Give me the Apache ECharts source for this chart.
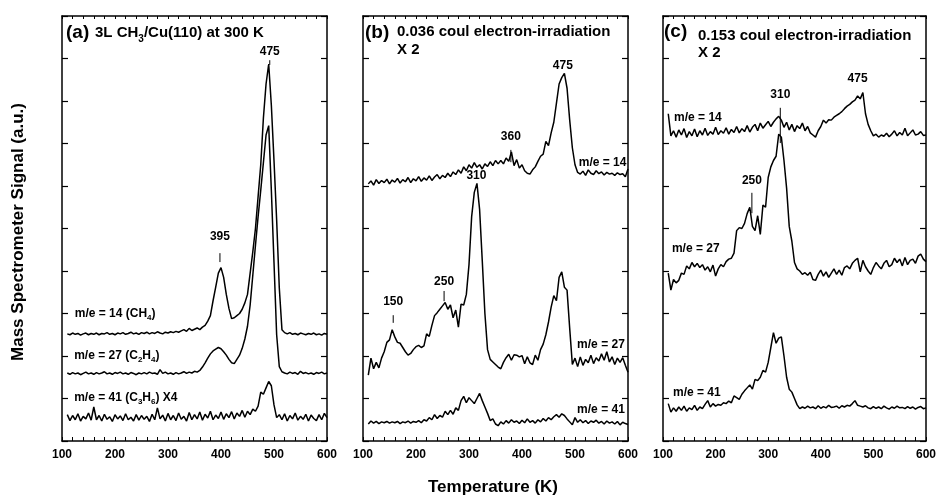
<!DOCTYPE html>
<html><head><meta charset="utf-8">
<script src="https://cdn.jsdelivr.net/npm/echarts@6/dist/echarts.min.js"></script>
<style>html,body{margin:0;padding:0;background:#fff}#chart{width:939px;height:496px}</style>
</head><body><div id="chart"></div>
<script>
// Temperature samples (K)
const temps = [110,115,120,125,130,135,140,145,150,155,
160,165,170,175,180,185,190,195,200,205,
210,215,220,225,230,235,240,245,250,255,
260,265,270,275,280,285,290,295,300,305,
310,315,320,325,330,335,340,345,350,355,
360,365,370,375,380,385,390,395,400,405,
410,415,420,425,430,435,440,445,450,455,
460,465,470,475,480,485,490,495,500,505,
510,515,520,525,530,535,540,545,550,555,
560,565,570,575,580,585,590,595,600];

// Panel (a): 3L CH3/Cu(110) at 300 K
const a14 = [2.52,2.50,2.54,2.51,2.53,2.49,2.52,2.54,2.50,2.53,
2.51,2.54,2.50,2.53,2.52,2.55,2.51,2.53,2.50,2.54,
2.52,2.55,2.51,2.53,2.56,2.52,2.54,2.51,2.55,2.53,
2.56,2.52,2.55,2.53,2.57,2.54,2.52,2.56,2.54,2.57,
2.55,2.58,2.56,2.59,2.62,2.58,2.65,2.60,2.63,2.66,
2.62,2.68,2.72,2.82,2.95,3.30,3.62,3.95,4.08,3.85,
3.45,3.12,2.88,2.90,2.95,3.00,3.10,3.25,3.45,3.95,
4.45,5.00,5.75,6.50,7.60,8.40,8.87,7.90,6.60,5.20,
3.60,2.62,2.55,2.52,2.55,2.51,2.53,2.50,2.54,2.52,
2.50,2.53,2.51,2.54,2.50,2.52,2.49,2.53,2.51];
const a27 = [1.60,1.57,1.61,1.58,1.60,1.56,1.59,1.62,1.58,1.60,
1.57,1.61,1.58,1.60,1.63,1.58,1.60,1.57,1.61,1.59,
1.62,1.58,1.60,1.57,1.61,1.59,1.56,1.60,1.58,1.61,
1.58,1.62,1.59,1.60,1.57,1.68,1.59,1.62,1.58,1.60,
1.57,1.61,1.58,1.60,1.63,1.59,1.62,1.60,1.64,1.62,
1.66,1.74,1.84,1.95,2.05,2.12,2.16,2.20,2.17,2.10,
2.02,1.92,1.84,1.82,1.92,2.02,2.18,2.40,2.70,3.20,
3.90,4.60,5.28,5.90,6.55,7.20,7.42,5.90,4.20,2.50,
1.75,1.63,1.60,1.58,1.62,1.59,1.61,1.57,1.64,1.59,
1.61,1.58,1.60,1.57,1.61,1.59,1.62,1.58,1.60];
const a41 = [0.62,0.48,0.60,0.50,0.64,0.47,0.58,0.52,0.66,0.49,
0.80,0.50,0.60,0.47,0.63,0.51,0.57,0.46,0.62,0.52,
0.59,0.48,0.64,0.50,0.56,0.47,0.62,0.49,0.60,0.51,
0.58,0.46,0.63,0.50,0.78,0.52,0.61,0.47,0.65,0.50,
0.60,0.48,0.66,0.51,0.58,0.47,0.67,0.50,0.62,0.52,
0.68,0.49,0.63,0.54,0.70,0.50,0.61,0.53,0.68,0.51,
0.64,0.55,0.69,0.52,0.66,0.58,0.72,0.56,0.70,0.62,
0.75,0.70,0.82,1.15,1.10,1.25,1.40,1.30,0.85,0.55,
0.62,0.50,0.64,0.47,0.60,0.52,0.66,0.49,0.58,0.51,
0.63,0.47,0.61,0.53,0.48,0.62,0.50,0.65,0.55];

// Panel (b): 0.036 coul electron-irradiation
const b14 = [6.05,6.12,6.02,6.15,6.06,6.13,6.08,6.16,6.05,6.14,
6.09,6.18,6.07,6.15,6.10,6.20,6.08,6.17,6.12,6.22,
6.11,6.19,6.14,6.24,6.13,6.21,6.27,6.17,6.25,6.20,
6.30,6.22,6.33,6.27,6.38,6.30,6.45,6.36,6.50,6.42,
6.55,6.44,6.50,6.40,6.52,6.46,6.57,6.48,6.60,6.52,
6.60,6.52,6.66,6.58,6.80,6.48,6.62,6.42,6.50,6.36,
6.30,6.28,6.38,6.45,6.58,6.70,6.75,7.05,6.95,7.25,
7.50,7.95,8.40,8.55,8.65,8.30,7.55,6.90,6.50,6.32,
6.28,6.35,6.25,6.38,6.30,6.27,6.36,6.29,6.33,6.26,
6.32,6.28,6.30,6.25,6.31,6.27,6.29,6.22,6.40];
const b27 = [1.55,1.95,1.70,1.85,1.72,1.95,2.10,2.32,2.38,2.62,
2.45,2.32,2.30,2.20,2.10,2.02,2.06,2.15,2.22,2.25,
2.20,2.24,2.52,2.46,2.72,2.95,3.02,3.10,3.18,3.26,
3.10,3.20,2.90,3.08,2.68,3.22,3.20,3.45,4.15,5.28,
5.85,6.06,5.45,4.25,3.00,2.15,1.92,1.86,1.80,1.74,
1.70,1.85,1.96,2.04,1.90,2.03,2.02,1.98,2.01,1.82,
1.98,1.84,1.80,2.02,1.90,2.15,2.28,2.50,2.80,3.15,
3.42,3.30,3.85,3.98,3.62,3.55,2.65,1.80,1.95,1.75,
1.98,1.78,1.92,1.84,2.02,1.82,1.96,1.88,2.05,1.90,
2.10,1.86,1.98,1.80,1.95,1.85,1.96,1.78,1.62];
const b41 = [0.40,0.47,0.42,0.46,0.41,0.45,0.43,0.46,0.42,0.45,
0.43,0.46,0.41,0.45,0.43,0.47,0.42,0.46,0.44,0.48,
0.43,0.50,0.47,0.55,0.50,0.62,0.53,0.60,0.56,0.70,
0.62,0.72,0.63,0.78,0.72,0.95,1.05,0.90,1.02,0.95,
0.88,1.00,1.12,0.95,0.80,0.65,0.48,0.52,0.40,0.36,
0.45,0.40,0.48,0.42,0.50,0.44,0.47,0.41,0.49,0.43,
0.52,0.44,0.48,0.42,0.50,0.45,0.53,0.47,0.55,0.50,
0.57,0.62,0.56,0.64,0.60,0.52,0.45,0.38,0.55,0.44,
0.50,0.43,0.48,0.41,0.47,0.44,0.49,0.42,0.46,0.40,
0.47,0.42,0.45,0.40,0.46,0.38,0.44,0.41,0.39];

// Panel (c): 0.153 coul electron-irradiation
const c14 = [7.70,7.18,7.30,7.15,7.32,7.20,7.35,7.14,7.28,7.18,
7.34,7.16,7.30,7.20,7.36,7.19,7.28,7.22,7.38,7.21,
7.30,7.24,7.37,7.22,7.33,7.26,7.40,7.25,7.35,7.28,
7.42,7.27,7.38,7.45,7.30,7.48,7.36,7.44,7.52,7.40,
7.50,7.58,7.64,7.55,7.38,7.50,7.32,7.45,7.28,7.42,
7.35,7.48,7.30,7.40,7.25,7.20,7.15,7.30,7.40,7.55,
7.48,7.56,7.55,7.62,7.66,7.70,7.75,7.82,7.88,7.92,
7.98,8.02,8.12,8.05,8.20,7.70,7.45,7.30,7.18,7.22,
7.15,7.20,7.17,7.24,7.16,7.22,7.30,7.18,7.26,7.20,
7.36,7.18,7.25,7.32,7.20,7.22,7.28,7.19,7.20];
const c27 = [3.95,3.55,3.80,3.72,3.78,3.95,3.92,4.12,4.05,4.20,
4.10,4.18,4.08,4.15,4.02,4.10,3.98,4.14,3.88,4.05,
4.15,4.10,4.22,4.28,4.30,4.42,4.95,5.02,5.00,5.12,
5.35,5.50,5.05,4.95,5.30,4.86,5.55,5.50,6.20,6.45,
6.60,6.70,7.22,7.15,6.60,5.95,5.05,4.70,4.20,4.05,
4.00,3.92,3.96,3.90,3.97,3.80,3.78,3.92,4.02,3.88,
3.98,3.85,3.95,4.05,3.92,4.02,3.90,4.08,4.12,4.05,
4.18,4.25,4.30,3.98,4.25,4.10,4.00,3.92,4.08,4.20,
4.12,4.05,4.18,4.25,4.10,4.15,4.30,4.20,4.28,4.12,
4.32,4.15,4.25,4.28,4.18,4.35,4.40,4.28,4.22];
const c41 = [0.88,0.68,0.78,0.70,0.80,0.72,0.82,0.70,0.78,0.74,
0.84,0.72,0.80,0.76,0.86,0.95,0.80,0.88,0.82,0.86,
0.84,0.90,0.88,0.94,0.90,1.06,1.02,0.98,1.10,1.18,
1.25,1.32,1.22,1.45,1.42,1.50,1.66,1.62,1.85,2.20,
2.55,2.30,2.42,2.45,2.00,1.50,1.22,1.15,1.00,0.85,
0.76,0.80,0.77,0.82,0.78,0.80,0.76,0.83,0.77,0.81,
0.78,0.84,0.79,0.80,0.82,0.77,0.83,0.80,0.84,0.82,
0.88,0.95,0.84,0.82,0.80,0.83,0.78,0.76,0.81,0.77,
0.80,0.76,0.82,0.78,0.75,0.80,0.77,0.82,0.78,0.79,
0.76,0.81,0.77,0.80,0.75,0.79,0.81,0.76,0.78];

// Peak annotations: [T, text level, tick top, tick bottom, label]
const peaksA = [[398,4.80,4.42,4.21,'395'],[492,9.16,8.96,8.85,'475']];
const peaksB = [[379,7.15,6.85,6.56,'360'],[477,8.82,8.70,8.70,'475'],[314,6.24,6.10,6.10,'310'],[157,3.27,2.96,2.78,'150'],[253,3.74,3.53,3.29,'250']];
const peaksC = [[323,8.16,7.84,7.01,'310'],[470,8.52,8.40,8.40,'475'],[269,6.12,5.84,5.36,'250']];

// Curve labels: [T, level, rich text]
const namesA = [[124,2.99,'{t|m/e = 14 (CH}{s|4}{t|)}'],[123,2.00,'{t|m/e = 27 (C}{s|2}{t|H}{s|4}{t|)}'],[123,1.01,'{t|m/e = 41 (C}{s|3}{t|H}{s|6}{t|) X4}']];
const namesB = [[507,6.54,'{t|m/e = 14}'],[504,2.26,'{t|m/e = 27}'],[504,0.73,'{t|m/e = 41}']];
const namesC = [[121,7.60,'{t|m/e = 14}'],[117,4.52,'{t|m/e = 27}'],[119,1.13,'{t|m/e = 41}']];

const xTicks = {min:100, max:600, interval:100};
const FONT = '"Liberation Sans", Arial, sans-serif';

const grids = [
  {left:62, top:16, width:265, height:425},
  {left:363, top:16, width:265, height:425},
  {left:663, top:16, width:266, height:425}
];
const axisLine = {show:true, onZero:false, lineStyle:{color:'#000', width:1.5}};
const xAxes = [], yAxes = [];
grids.forEach((g, i) => {
  xAxes.push({gridIndex:i, type:'value', position:'bottom', min:xTicks.min, max:xTicks.max, interval:xTicks.interval,
    axisLine, axisTick:{show:true, inside:true, length:4, lineStyle:{color:'#000', width:1}},
    minorTick:{show:true, splitNumber:5, length:4, lineStyle:{color:'#000', width:1}},
    splitLine:{show:false}, minorSplitLine:{show:false},
    axisLabel:{show:true, margin:8, color:'#000', fontFamily:FONT, fontWeight:'bold', fontSize:12}});
  xAxes.push({gridIndex:i, type:'value', position:'top', min:xTicks.min, max:xTicks.max, interval:xTicks.interval,
    axisLine, axisTick:{show:true, inside:true, length:3, lineStyle:{color:'#000', width:1}},
    minorTick:{show:true, splitNumber:5, length:3, lineStyle:{color:'#000', width:1}},
    splitLine:{show:false}, axisLabel:{show:false}});
  yAxes.push({gridIndex:i, type:'value', position:'left', min:0, max:10, interval:1,
    axisLine, axisTick:{show:true, inside:true, length:6, lineStyle:{color:'#000', width:1.2}},
    splitLine:{show:false}, axisLabel:{show:false}});
  yAxes.push({gridIndex:i, type:'value', position:'right', min:0, max:10, interval:1,
    axisLine, axisTick:{show:true, inside:true, length:6, lineStyle:{color:'#000', width:1.2}},
    splitLine:{show:false}, axisLabel:{show:false}});
});

function lineSeries(gi, vals) {
  return {type:'line', xAxisIndex:gi*2, yAxisIndex:gi*2, data:temps.map((t,k)=>[t, vals[k]]),
    showSymbol:false, symbol:'none', lineStyle:{color:'#000', width:1.5}, silent:true, z:3};
}
function peakSeries(gi, arr) {
  return {type:'custom', xAxisIndex:gi*2, yAxisIndex:gi*2, data:arr.map(a=>[a[0], a[1]]), silent:true, z:5,
    renderItem:(params, api) => {
      const a = arr[params.dataIndex];
      const p = api.coord([a[0], a[1]]);
      const t = api.coord([a[0], a[2]]);
      const b = api.coord([a[0], a[3]]);
      const ch = [{type:'text', style:{text:a[4], x:p[0], y:p[1], align:'center', verticalAlign:'middle',
        fontFamily:FONT, fontWeight:'bold', fontSize:12, fill:'#000'}}];
      if (a[2] !== a[3]) ch.push({type:'line', shape:{x1:t[0], y1:t[1], x2:b[0], y2:b[1]}, style:{stroke:'#000', lineWidth:1}});
      return {type:'group', children:ch};
    }};
}
const richSmall = {
  t:{fontFamily:FONT, fontWeight:'bold', fontSize:12, lineHeight:16, verticalAlign:'middle', color:'#000'},
  s:{fontFamily:FONT, fontWeight:'bold', fontSize:8, lineHeight:16, verticalAlign:'bottom', color:'#000'}
};
function nameSeries(gi, arr) {
  return {type:'custom', xAxisIndex:gi*2, yAxisIndex:gi*2, data:arr.map(a=>[a[0], a[1]]), silent:true, z:5,
    renderItem:(params, api) => {
      const a = arr[params.dataIndex];
      const p = api.coord([a[0], a[1]]);
      return {type:'text', style:{text:a[2], x:p[0], y:p[1], align:'left', verticalAlign:'middle', rich:richSmall, fill:'#000'}};
    }};
}

const richTitle = {
  p:{fontFamily:FONT, fontWeight:'bold', fontSize:19, lineHeight:22, verticalAlign:'middle', color:'#000'},
  t:{fontFamily:FONT, fontWeight:'bold', fontSize:15, lineHeight:22, verticalAlign:'middle', color:'#000'},
  s:{fontFamily:FONT, fontWeight:'bold', fontSize:10, lineHeight:22, verticalAlign:'bottom', color:'#000'}
};
function gText(x, y, text, extra) {
  return Object.assign({type:'text', x, y, silent:true, style:{text, rich:richTitle, verticalAlign:'middle', align:'left', fill:'#000'}}, extra||{});
}

const option = {
  animation:false,
  backgroundColor:'#fff',
  grid:grids,
  xAxis:xAxes,
  yAxis:yAxes,
  series:[
    lineSeries(0,a14), lineSeries(0,a27), lineSeries(0,a41),
    lineSeries(1,b14), lineSeries(1,b27), lineSeries(1,b41),
    lineSeries(2,c14), lineSeries(2,c27), lineSeries(2,c41),
    peakSeries(0,peaksA), peakSeries(1,peaksB), peakSeries(2,peaksC),
    nameSeries(0,namesA), nameSeries(1,namesB), nameSeries(2,namesC)
  ],
  graphic:[
    gText(66, 33, '{p|(a)}'),
    gText(95, 33, '{t|3L CH}{s|3}{t|/Cu(110) at 300 K}'),
    gText(365, 33, '{p|(b)}'),
    gText(397, 32, '{t|0.036 coul electron-irradiation}'),
    gText(397, 50, '{t|X 2}'),
    gText(664, 32, '{p|(c)}'),
    gText(698, 36, '{t|0.153 coul electron-irradiation}'),
    gText(698, 53, '{t|X 2}'),
    {type:'text', x:493, y:487, silent:true, style:{text:'Temperature (K)', align:'center', verticalAlign:'middle',
      fontFamily:FONT, fontWeight:'bold', fontSize:17, fill:'#000'}},
    {type:'text', x:18, y:232, rotation:Math.PI/2, silent:true, style:{text:'Mass Spectrometer Signal (a.u.)', align:'center', verticalAlign:'middle',
      fontFamily:FONT, fontWeight:'bold', fontSize:17, fill:'#000'}}
  ]
};
const chart = echarts.init(document.getElementById('chart'), null, {renderer:'canvas'});
chart.setOption(option);
</script>
</body></html>
